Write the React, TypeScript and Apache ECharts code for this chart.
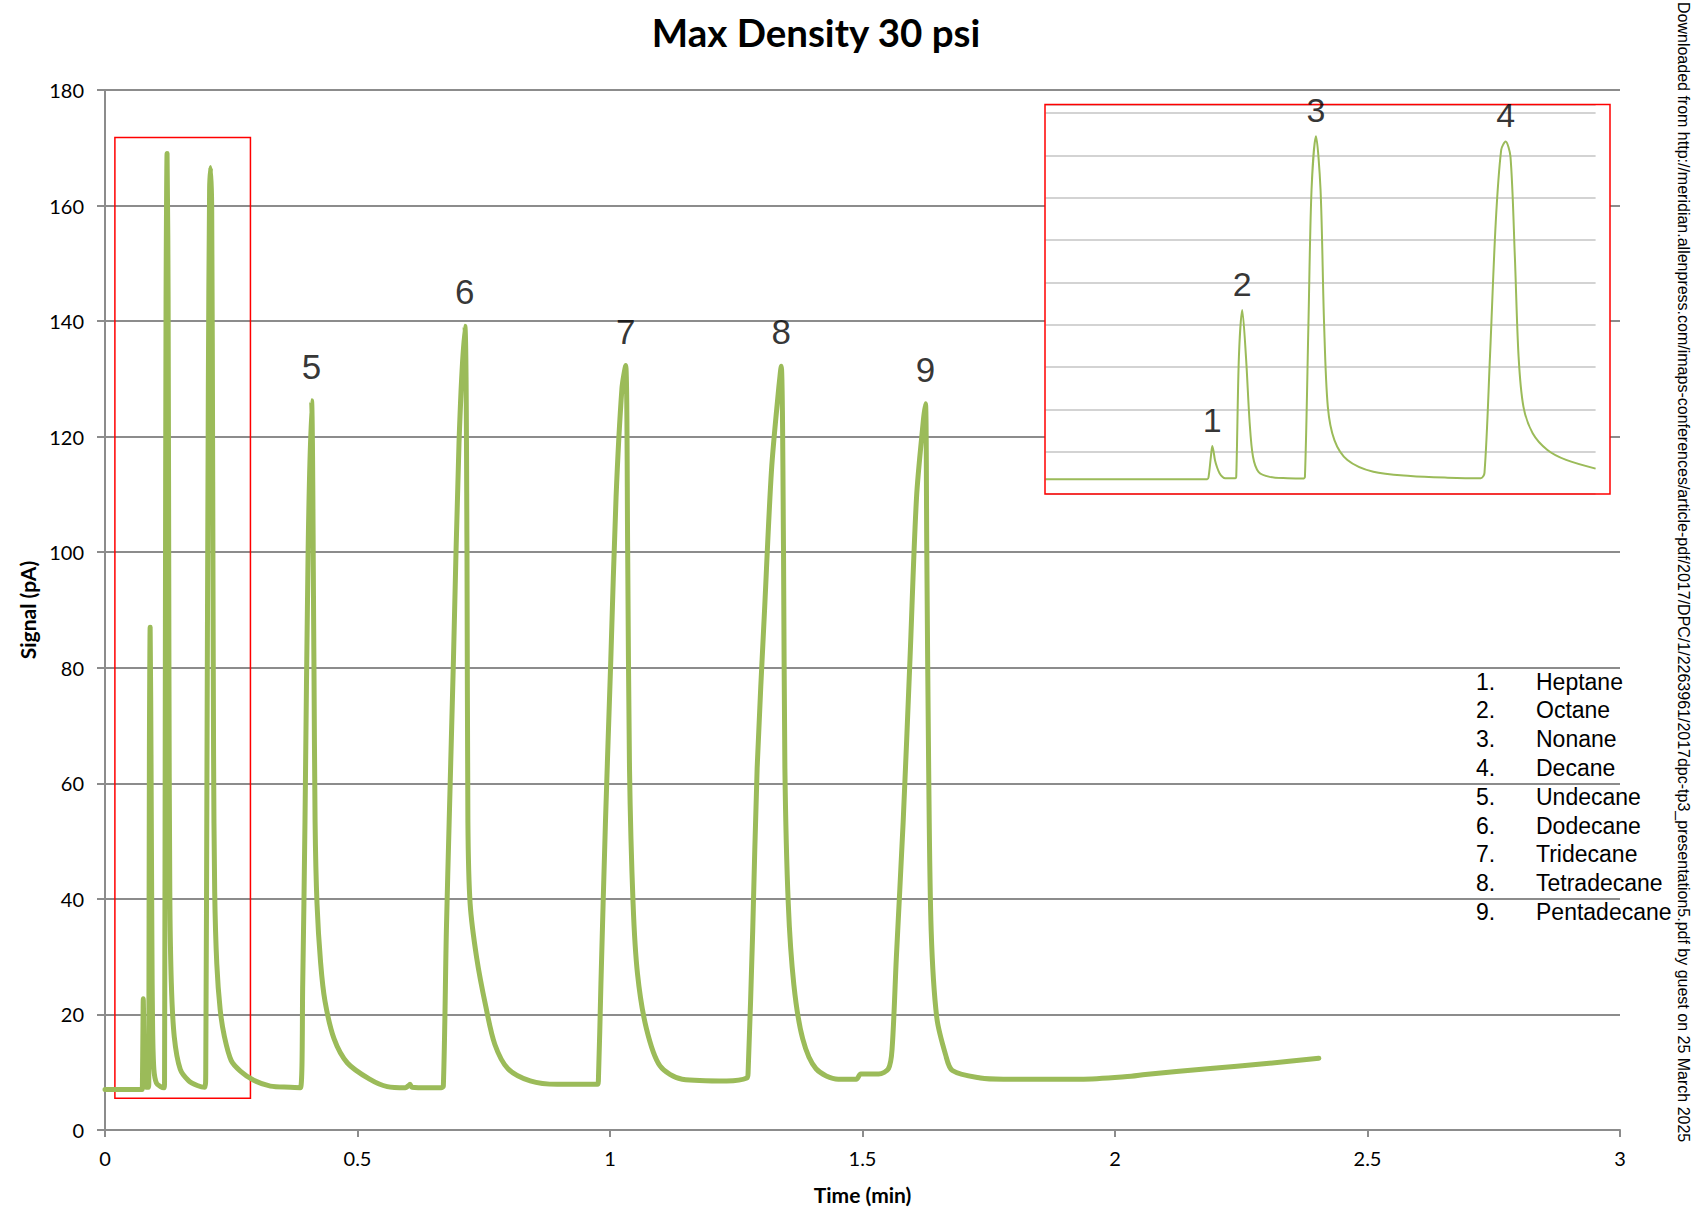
import React, { useEffect, useRef } from 'react';
import * as echarts from 'echarts';

// Chromatogram trace: retention time (min) and FID signal (pA)
const timeMin = [
  0, 0.03, 0.06, 0.0735, 0.0741, 0.0752, 0.0758, 0.0764, 0.077, 0.078, 0.0791, 0.0805, 0.0817, 0.0862,
  0.0867, 0.0879, 0.0894, 0.0911, 0.0928, 0.0943, 0.0968, 0.1019, 0.11, 0.117,
  0.1179, 0.1195, 0.1209, 0.1229, 0.125, 0.1266, 0.1283, 0.1313, 0.1372, 0.149, 0.1659, 0.1827, 0.1978,
  0.1995, 0.202, 0.2046, 0.2071, 0.2091, 0.2113, 0.2133, 0.215, 0.2172, 0.2214, 0.2281, 0.2366, 0.25,
  0.268, 0.2945, 0.3275, 0.367, 0.387,
  0.3915, 0.396, 0.4022, 0.409, 0.4137, 0.416, 0.4198, 0.427, 0.4356, 0.4535, 0.48, 0.524, 0.559,
  0.595, 0.6, 0.604, 0.608, 0.64, 0.6655,
  0.67, 0.676, 0.6815, 0.69, 0.701, 0.7125, 0.7168, 0.7186, 0.723, 0.736, 0.754, 0.772, 0.798, 0.842,
  0.8955, 0.975,
  0.977, 0.982, 0.991, 1.0016, 1.012, 1.0236, 1.031, 1.035, 1.0386, 1.0457, 1.0545, 1.072, 1.099,
  1.143, 1.231, 1.271,
  1.2735, 1.2826, 1.2914, 1.3065, 1.3198, 1.333, 1.339, 1.3436, 1.3463, 1.353, 1.364, 1.3815, 1.408,
  1.452, 1.4876, 1.4966, 1.532, 1.5513,
  1.5585, 1.567, 1.5805, 1.594, 1.607, 1.6204, 1.6247, 1.6273, 1.631, 1.636, 1.647, 1.6646, 1.678,
  1.7335, 1.779, 1.931, 2.032, 2.06, 2.183, 2.3, 2.4036,
];
const signalPA = [
  7.0, 7.0, 7.0, 7.0, 8.0, 18.0, 22.7, 20.0, 16.1, 12.5, 9.8, 8.0, 7.4, 7.4,
  8.5, 64.9, 87.0, 64.9, 33.4, 17.6, 10.5, 8.1, 7.5, 7.3,
  8.0, 80.7, 143.7, 169.0, 143.7, 80.7, 41.3, 25.5, 16.1, 10.5, 8.5, 7.7, 7.4,
  10.0, 64.9, 128.0, 162.6, 166.6, 159.5, 112.2, 64.9, 41.3, 28.7, 20.8, 16.1, 12.0,
  10.2, 8.6, 7.6, 7.4, 7.3,
  25.2, 53.3, 100.2, 126.2, 81.4, 53.3, 39.2, 28.9, 22.3, 15.8, 11.6, 8.8, 7.5,
  7.3, 7.6, 7.9, 7.4, 7.3, 7.3,
  7.6, 34.5, 53.3, 81.4, 118.9, 139.1, 100.2, 53.3, 39.2, 29.8, 21.4, 14.8, 10.6, 8.5,
  7.9, 7.9,
  8.5, 25.2, 53.3, 81.4, 109.5, 128.3, 132.3, 100.2, 62.7, 39.2, 27.0, 17.6, 11.1,
  8.8, 8.5, 9.0,
  10.0, 34.5, 62.7, 90.8, 114.2, 127.4, 132.2, 100.2, 62.7, 39.2, 25.2, 15.8, 10.6,
  8.8, 8.8, 9.7, 9.7, 10.6,
  13.9, 29.8, 53.3, 81.4, 109.5, 122.7, 125.7, 100.2, 62.7, 34.5, 19.5, 13.0, 10.3,
  9.0, 8.8, 8.8, 9.3, 9.6, 10.6, 11.5, 12.4,
];

// Peak identification
const peakNumbers = ['1', '2', '3', '4', '5', '6', '7', '8', '9'];
const peakTimes = [0.0758, 0.0894, 0.1229, 0.2091, 0.409, 0.7125, 1.031, 1.339, 1.6247];
const peakHeights = [22.7, 87.0, 169.0, 166.6, 126.2, 139.1, 132.3, 132.2, 125.7];
const compoundNames = [
  'Heptane', 'Octane', 'Nonane', 'Decane', 'Undecane', 'Dodecane', 'Tridecane', 'Tetradecane', 'Pentadecane',
];

// Region magnified in the inset (time min, signal pA)
const zoomBoxTime = [0.0196, 0.288];
const zoomBoxSignal = [5.5, 171.8];
const insetTimeRange = [0, 0.25];
const insetSignalMax = 184;

const GREEN = '#9BBB59';
const AXIS_GRAY = '#8c8c8c';

export default function App() {
  const ref = useRef<HTMLDivElement>(null);

  useEffect(() => {
    const chart = echarts.init(ref.current as HTMLDivElement, null, { renderer: 'svg' });
    const trace = timeMin.map((t, i) => [t, signalPA[i]]);
    const insetTrace = trace.filter((p) => p[0] <= insetTimeRange[1]);
    const peaks = peakNumbers.map((n, i) => ({ name: n, value: [peakTimes[i], peakHeights[i]] }));
    const insetPeaks = peaks.slice(0, 4);
    const mainPeaks = peaks.slice(4);

    const legendTop = 681.6;
    const legendStep = 28.8;
    const legendEls: any[] = [];
    compoundNames.forEach((name, i) => {
      legendEls.push({
        type: 'text',
        x: 1476,
        y: legendTop + i * legendStep,
        z: 20,
        style: {
          text: peakNumbers[i] + '.',
          fontFamily: 'Liberation Sans, Arial, sans-serif',
          fontSize: 23,
          fill: '#000',
          align: 'left',
          verticalAlign: 'middle',
        },
      });
      legendEls.push({
        type: 'text',
        x: 1536,
        y: legendTop + i * legendStep,
        z: 20,
        style: {
          text: name,
          fontFamily: 'Liberation Sans, Arial, sans-serif',
          fontSize: 23,
          fill: '#000',
          align: 'left',
          verticalAlign: 'middle',
        },
      });
    });

    const option: any = {
      animation: false,
      backgroundColor: '#ffffff',
      title: {
        text: 'Max Density 30 psi',
        left: 811,
        top: 7,
        textAlign: 'center',
        textStyle: { fontFamily: 'Lato', fontWeight: 'bold', fontSize: 38.5, color: '#000' },
      },
      grid: [
        { left: 105, right: 71, top: 90, bottom: 82 },
        { left: 1045.5, top: 104.6, width: 550.1, height: 389.4 },
      ],
      xAxis: [
        {
          type: 'value',
          gridIndex: 0,
          min: 0,
          max: 3,
          interval: 0.5,
          axisLine: { show: true, onZero: false, lineStyle: { color: AXIS_GRAY, width: 2 } },
          axisTick: { show: true, inside: false, length: 7, lineStyle: { color: AXIS_GRAY, width: 2 } },
          axisLabel: { margin: 18, fontFamily: 'Lato', fontSize: 20, color: '#000' },
          splitLine: { show: false },
          name: 'Time (min)',
          nameLocation: 'middle',
          nameGap: 54,
          nameTextStyle: { fontFamily: 'Lato', fontWeight: 'bold', fontSize: 21, color: '#000' },
        },
        {
          type: 'value',
          gridIndex: 1,
          min: insetTimeRange[0],
          max: insetTimeRange[1],
          show: false,
        },
      ],
      yAxis: [
        {
          type: 'value',
          gridIndex: 0,
          min: 0,
          max: 180,
          interval: 20,
          axisLine: { show: true, onZero: false, lineStyle: { color: AXIS_GRAY, width: 2 } },
          axisTick: { show: true, inside: false, length: 8, lineStyle: { color: AXIS_GRAY, width: 2 } },
          axisLabel: { margin: 21, fontFamily: 'Lato', fontSize: 20, color: '#000' },
          splitLine: { show: true, lineStyle: { color: AXIS_GRAY, width: 2 } },
          name: 'Signal (pA)',
          nameLocation: 'middle',
          nameGap: 67,
          nameTextStyle: { fontFamily: 'Lato', fontWeight: 'bold', fontSize: 21, color: '#000' },
        },
        {
          type: 'value',
          gridIndex: 1,
          min: 0,
          max: insetSignalMax,
          interval: 20,
          z: 3,
          axisLine: { show: false },
          axisTick: { show: false },
          axisLabel: { show: false },
          splitLine: { show: true, lineStyle: { color: '#c4c4c4', width: 1.5 } },
        },
      ],
      series: [
        {
          type: 'line',
          name: 'Signal',
          xAxisIndex: 0,
          yAxisIndex: 0,
          data: trace,
          showSymbol: false,
          symbol: 'none',
          smooth: 0.3,
          lineStyle: { color: GREEN, width: 5, join: 'round', cap: 'round' },
          z: 2,
          markArea: {
            silent: true,
            itemStyle: { color: 'rgba(0,0,0,0)', borderColor: '#ff0000', borderWidth: 1.5 },
            data: [[{ coord: [zoomBoxTime[0], zoomBoxSignal[1]] }, { coord: [zoomBoxTime[1], zoomBoxSignal[0]] }]],
          },
        },
        {
          type: 'line',
          name: 'Inset',
          xAxisIndex: 1,
          yAxisIndex: 1,
          data: insetTrace,
          showSymbol: false,
          symbol: 'none',
          smooth: 0.3,
          lineStyle: { color: GREEN, width: 2 },
          z: 6,
        },
        {
          type: 'scatter',
          name: 'Peak labels',
          xAxisIndex: 0,
          yAxisIndex: 0,
          data: mainPeaks,
          symbolSize: 0,
          silent: true,
          z: 12,
          label: {
            show: true,
            position: 'top',
            distance: 17,
            formatter: '{b}',
            fontFamily: 'Liberation Sans, Arial, sans-serif',
            fontSize: 35,
            color: '#000',
          },
        },
        {
          type: 'scatter',
          name: 'Inset labels',
          xAxisIndex: 1,
          yAxisIndex: 1,
          data: insetPeaks,
          symbolSize: 0,
          silent: true,
          z: 12,
          label: {
            show: true,
            position: 'top',
            distance: 9,
            formatter: '{b}',
            fontFamily: 'Liberation Sans, Arial, sans-serif',
            fontSize: 34,
            color: '#000',
          },
        },
      ],
      graphic: [
        {
          type: 'rect',
          z: 1,
          shape: { x: 1045, y: 104.6, width: 565, height: 389.4 },
          style: { fill: '#ffffff', stroke: 'none' },
        },
        {
          type: 'rect',
          z: 10,
          shape: { x: 1045, y: 104.6, width: 565, height: 389.4 },
          style: { fill: 'transparent', stroke: '#ff0000', lineWidth: 1.5 },
        },
        ...legendEls,
        {
          type: 'text',
          x: 1683,
          y: 2,
          rotation: -Math.PI / 2,
          z: 20,
          style: {
            text:
              'Downloaded from http://meridian.allenpress.com/imaps-conferences/article-pdf/2017/DPC/1/2263961/2017dpc-tp3_presentation5.pdf by guest on 25 March 2025',
            fontFamily: 'Liberation Sans, Arial, sans-serif',
            fontSize: 16,
            fill: '#000',
            align: 'left',
            verticalAlign: 'middle',
          },
        },
      ],
    };

    chart.setOption(option);
    return () => chart.dispose();
  }, []);

  return (
    <div
      ref={ref}
      style={{ position: 'absolute', left: 0, top: 0, width: 1691, height: 1212, background: '#fff' }}
    />
  );
}
